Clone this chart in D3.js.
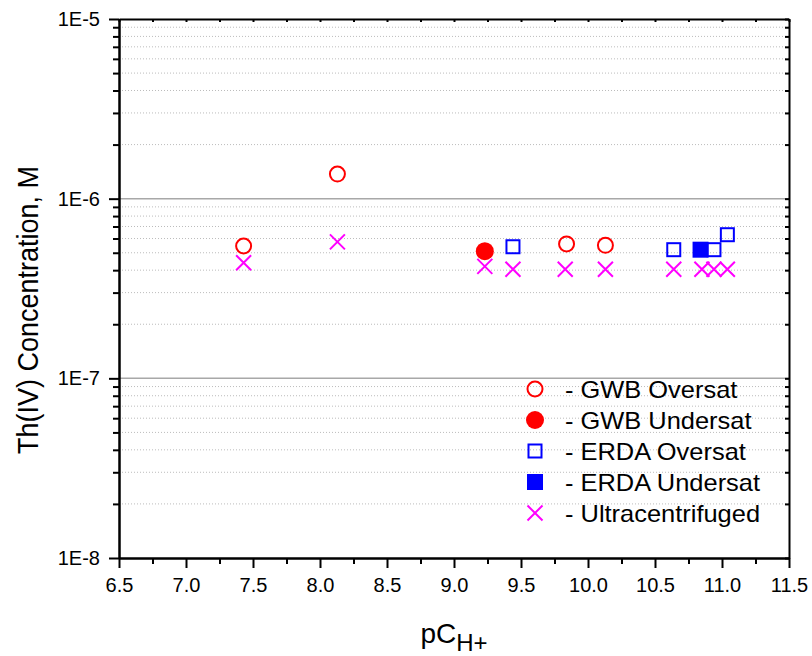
<!DOCTYPE html>
<html>
<head>
<meta charset="utf-8">
<script src="https://cdn.jsdelivr.net/npm/d3@7"></script>
<style>
  body { margin: 0; background: #fff; }
  text { font-family: "Liberation Sans", Arial, sans-serif; fill: #000; }
</style>
</head>
<body>
<svg id="canvas" width="812" height="656"></svg>
<script>
/********** Data *********/
var gwbOverX = [7.43, 8.13, 9.84, 10.13];
var gwbOverY = [5.45e-7, 1.37e-6, 5.6e-7, 5.5e-7];

var gwbUnderX = [9.23];
var gwbUnderY = [5.1e-7];

var erdaOverX = [9.44, 10.64, 10.94, 11.04];
var erdaOverY = [5.4e-7, 5.2e-7, 5.2e-7, 6.3e-7];

var erdaUnderX = [10.84];
var erdaUnderY = [5.2e-7];

var ultraX = [7.43, 8.13, 9.23, 9.44, 9.83, 10.13, 10.64, 10.85, 10.94, 11.04];
var ultraY = [4.4e-7, 5.75e-7, 4.2e-7, 4.05e-7, 4.05e-7, 4.05e-7, 4.05e-7, 4.05e-7, 4.05e-7, 4.05e-7];

var xTicks = [6.5, 7.0, 7.5, 8.0, 8.5, 9.0, 9.5, 10.0, 10.5, 11.0, 11.5];
var yTicks = [1e-8, 1e-7, 1e-6, 1e-5];

var legendLabels = ["- GWB Oversat", "- GWB Undersat", "- ERDA Oversat", "- ERDA Undersat", "- Ultracentrifuged"];


/********** Initialisation *********/
var svg = d3.select("#canvas");
var margin = {left: 119, right: 23, top: 19, bottom: 98};
var width = +svg.attr("width");
var height = +svg.attr("height");

var x = d3.scaleLinear()
    .domain([6.5, 11.5])
    .range([margin.left, width - margin.right]);

var y = d3.scaleLog()
    .domain([1e-8, 1e-5])
    .range([height - margin.bottom, margin.top]);

// minor positions
var xMinor = [];
for (var i = 0; i < xTicks.length - 1; i++) xMinor.push(xTicks[i] + 0.25);

var yMinor = [];
yTicks.slice(0, -1).forEach(function(p) {
    for (var k = 2; k <= 9; k++) yMinor.push(p * k);
});

function series(xs, ys) {
    return xs.map(function(v, i) { return {x: v, y: ys[i]}; });
}

var series_data = [
    {label: legendLabels[0], type: "openCircle", color: "#ff0000", data: series(gwbOverX, gwbOverY)},
    {label: legendLabels[1], type: "fullCircle", color: "#ff0000", data: series(gwbUnderX, gwbUnderY)},
    {label: legendLabels[2], type: "openSquare", color: "#0000ff", data: series(erdaOverX, erdaOverY)},
    {label: legendLabels[3], type: "fullSquare", color: "#0000ff", data: series(erdaUnderX, erdaUnderY)},
    {label: legendLabels[4], type: "cross", color: "#ff00ff", data: series(ultraX, ultraY)}
];


/********** Grid *********/
var grid = svg.append("g").attr("class", "grid");

grid.selectAll("line.minor")
    .data(yMinor)
    .enter()
    .append("line")
    .attr("class", "minor")
    .attr("x1", x.range()[0])
    .attr("x2", x.range()[1])
    .attr("y1", function(d) { return y(d); })
    .attr("y2", function(d) { return y(d); })
    .attr("stroke", "#bcbcbc")
    .attr("stroke-width", 1)
    .attr("stroke-dasharray", "1,2");

grid.selectAll("line.major")
    .data([1e-7, 1e-6])
    .enter()
    .append("line")
    .attr("class", "major")
    .attr("x1", x.range()[0])
    .attr("x2", x.range()[1])
    .attr("y1", function(d) { return y(d); })
    .attr("y2", function(d) { return y(d); })
    .attr("stroke", "#a8a8a8")
    .attr("stroke-width", 1.5);


/********** Axes *********/
function styleAxis(g) {
    g.select(".domain").attr("stroke", "#000").attr("stroke-width", 2);
    g.selectAll(".tick line").attr("stroke", "#000").attr("stroke-width", 2);
    g.selectAll("text").style("font-size", "20px").attr("fill", "#000");
}

var bottom = y.range()[0];
var top_ = y.range()[1];
var left = x.range()[0];
var right = x.range()[1];

// bottom
svg.append("g")
    .attr("transform", "translate(0," + bottom + ")")
    .call(d3.axisBottom(x).tickValues(xMinor).tickSize(6).tickSizeOuter(0).tickFormat(""))
    .call(styleAxis);
svg.append("g")
    .attr("transform", "translate(0," + bottom + ")")
    .call(d3.axisBottom(x).tickValues(xTicks).tickSize(10).tickSizeOuter(0).tickPadding(10)
        .tickFormat(d3.format(".1f")))
    .call(styleAxis);

// left
svg.append("g")
    .attr("transform", "translate(" + left + ",0)")
    .call(d3.axisLeft(y).tickValues(yMinor).tickSize(6).tickSizeOuter(0).tickFormat(""))
    .call(styleAxis);
svg.append("g")
    .attr("transform", "translate(" + left + ",0)")
    .call(d3.axisLeft(y).tickValues(yTicks).tickSize(10).tickSizeOuter(0).tickPadding(9)
        .tickFormat(function(d) { return "1E" + Math.round(Math.log10(d)); }))
    .call(styleAxis);

// top and right, ticks inside
svg.append("g")
    .attr("transform", "translate(0," + top_ + ")")
    .call(d3.axisTop(x).tickValues(xTicks.concat(xMinor)).tickSize(-3).tickSizeOuter(0).tickFormat(""))
    .call(styleAxis);
svg.append("g")
    .attr("transform", "translate(" + right + ",0)")
    .call(d3.axisRight(y).tickValues(yTicks.concat(yMinor)).tickSize(-4).tickSizeOuter(0).tickFormat(""))
    .call(styleAxis);


/********** Titles *********/
svg.append("text")
    .attr("transform", "translate(38,310) rotate(-90) scale(1,1.1)")
    .attr("text-anchor", "middle")
    .style("font-size", "27px")
    .text("Th(IV) Concentration, M");

var xt = svg.append("text")
    .attr("x", (left + right) / 2)
    .attr("y", 643)
    .attr("text-anchor", "middle")
    .style("font-size", "28px");
xt.append("tspan").text("pC");
xt.append("tspan").attr("dy", 8).style("font-size", "24px").text("H+");


/********** Markers *********/
function drawMarker(sel, type, color) {
    if (type == "openCircle") {
        sel.append("circle").attr("r", 7.5)
            .attr("fill", "none").attr("stroke", color).attr("stroke-width", 2);
    } else if (type == "fullCircle") {
        sel.append("circle").attr("r", 9).attr("fill", color);
    } else if (type == "openSquare") {
        sel.append("rect").attr("x", -6.5).attr("y", -6.5).attr("width", 13).attr("height", 13)
            .attr("fill", "none").attr("stroke", color).attr("stroke-width", 2);
    } else if (type == "fullSquare") {
        sel.append("rect").attr("x", -8).attr("y", -8).attr("width", 16).attr("height", 16)
            .attr("fill", color);
    } else {
        sel.append("path").attr("d", "M-7.5,-7.5L7.5,7.5M-7.5,7.5L7.5,-7.5")
            .attr("fill", "none").attr("stroke", color).attr("stroke-width", 2);
    }
}

var plot = svg.append("g").attr("class", "points");

series_data.forEach(function(s) {
    plot.append("g")
        .selectAll("g")
        .data(s.data)
        .enter()
        .append("g")
        .attr("transform", function(d) { return "translate(" + x(d.x) + "," + y(d.y) + ")"; })
        .each(function() { drawMarker(d3.select(this), s.type, s.color); });
});


/********** Legend *********/
var legend = svg.append("g")
    .attr("transform", "translate(535,389)");

var item = legend.selectAll("g")
    .data(series_data)
    .enter()
    .append("g")
    .attr("transform", function(d, i) { return "translate(0," + (i * 31) + ")"; });

item.each(function(d) { drawMarker(d3.select(this), d.type, d.color); });

item.append("text")
    .attr("transform", "translate(30,9) scale(1.06,1)")
    .style("font-size", "24px")
    .text(function(d) { return d.label; });
</script>
</body>
</html>
